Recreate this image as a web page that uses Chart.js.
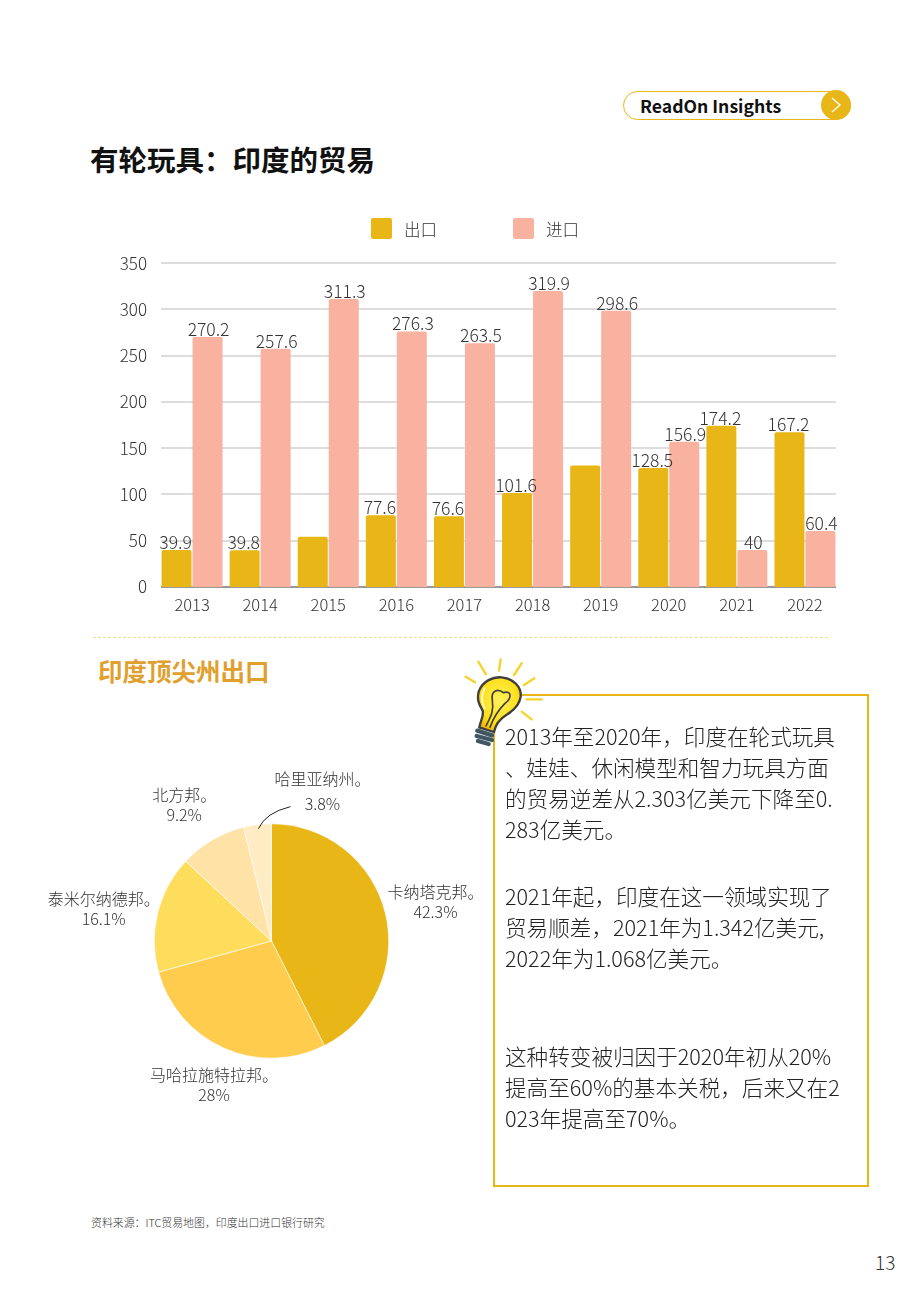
<!DOCTYPE html>
<html lang="zh-CN">
<head>
<meta charset="utf-8">
<title>有轮玩具：印度的贸易</title>
<script src="https://cdn.jsdelivr.net/npm/chart.js@4/dist/chart.umd.min.js"></script>
<style>
html, body { margin: 0; padding: 0; background: #fff; }
#page { position: relative; width: 920px; height: 1302px; overflow: hidden; font-family: "Noto Sans CJK SC", sans-serif; font-weight: 300; color: #222; }
#page > div, #page > canvas, #page > svg { position: absolute; }
.line { white-space: nowrap; }
#pill { left: 623px; top: 91px; width: 226px; height: 26.5px; border: 1.3px solid #E8B717; border-radius: 15px; }
#pill-dot { left: 821px; top: 90px; width: 30px; height: 30px; border-radius: 50%; background: #E8B717; }
#pill-text { left: 640px; top: 92px; font-size: 17.6px; line-height: 28px; font-weight: 700; color: #111; }
#title { left: 90px; top: 139px; font-size: 28.5px; line-height: 40px; font-weight: 700; color: #111; }
#subtitle { left: 98px; top: 654px; font-size: 24.5px; line-height: 33px; font-weight: 700; color: #DFA02E; }
#rule { left: 93px; top: 637px; width: 735px; border-top: 1px dashed #F5DC8E; }
#note-box { left: 493px; top: 694px; width: 372px; height: 489px; border: 2.5px solid #E8B717; }
#source { left: 91px; top: 1214px; font-size: 10.9px; line-height: 16px; color: #333; }
#page-no { left: 875px; top: 1248px; font-size: 19px; line-height: 28px; color: #333; }
.legend-box { width: 21px; height: 21px; border-radius: 2px; top: 218px; }
.legend-text { top: 218px; font-size: 16.5px; line-height: 23px; color: #333; }
</style>
</head>
<body>
<div id="page">
  <div id="pill"></div>
  <div id="pill-dot"></div>
  <svg style="left:0;top:0" width="920" height="130"><path d="M832 98 L840 105 L832 112" fill="none" stroke="#fff" stroke-width="1.4"/></svg>
  <div id="pill-text" class="line">ReadOn Insights</div>
  <div id="title" class="line">有轮玩具：印度的贸易</div>
  <canvas id="barChart" style="left:100px;top:250px" width="760" height="370"></canvas>
  <div id="rule"></div>
  <div id="subtitle" class="line">印度顶尖州出口</div>
  <canvas id="pieChart" style="left:30px;top:750px" width="470" height="380"></canvas>
  <div id="note-box"></div>
  <svg style="left:0;top:0" width="920" height="760">
    <defs>
      <radialGradient id="glass" cx="0.5" cy="0.42" r="0.6">
        <stop offset="0" stop-color="#FFF15C"/>
        <stop offset="0.7" stop-color="#FFE01B"/>
        <stop offset="1" stop-color="#F2B705"/>
      </radialGradient>
    </defs>
    <rect x="476" y="670" width="44" height="60" fill="#fff"/>
    <g transform="translate(450,640) scale(0.3333)" fill="none" stroke-linecap="round">
      <g stroke="#F5D327" stroke-width="7">
        <path d="M85 65 L108 103"/><path d="M152 58 L147 92"/><path d="M215 70 L192 105"/>
        <path d="M253 115 L222 135"/><path d="M275 178 L230 178"/><path d="M245 238 L215 215"/><path d="M47 110 L75 127"/>
      </g>
      <path d="M88 262 C92 240 102 228 98 212 C88 195 80 180 86 155 C98 122 130 110 155 112 C190 116 215 140 212 170 C208 198 190 212 170 224 C150 236 137 250 132 276 Z" fill="url(#glass)" stroke="#3F3F3D" stroke-width="7"/>
      <path d="M104 205 C94 185 92 165 104 145" stroke="#FFF9C8" stroke-width="6"/>
      <path d="M108 258 C122 230 132 215 127 180 C122 150 145 145 160 158 C186 150 186 175 165 190 C150 205 132 228 120 262" stroke="#3F3F3D" stroke-width="5"/>
      <g stroke="#3F5663" stroke-width="13">
        <path d="M82 272 L126 286"/><path d="M80 288 L126 300"/><path d="M84 303 L116 312"/>
      </g>
    </g>
  </svg>
  <div id="source" class="line">资料来源：ITC贸易地图，印度出口进口银行研究</div>
  <div id="page-no" class="line">13</div>
</div>
<script>
var years = ["2013", "2014", "2015", "2016", "2017", "2018", "2019", "2020", "2021", "2022"];
var exports_val = [39.9, 39.8, 54.2, 77.6, 76.6, 101.6, 131.4, 128.5, 174.2, 167.2];
var imports_val = [270.2, 257.6, 311.3, 276.3, 263.5, 319.9, 298.6, 156.9, 40, 60.4];
var y_ticks = [0, 50, 100, 150, 200, 250, 300, 350];
// export bars that carry no printed value
var unlabeled_exports = ["2015", "2019"];

var states = ["卡纳塔克邦。", "马哈拉施特拉邦。", "泰米尔纳德邦。", "北方邦。", "哈里亚纳州。"];
var state_share = [42.3, 28, 16.1, 9.2, 3.8];

var note_lines = [
    ["2013年至2020年，印度在轮式玩具", 736],
    ["、娃娃、休闲模型和智力玩具方面", 767],
    ["的贸易逆差从2.303亿美元下降至0.", 798],
    ["283亿美元。", 829],
    ["2021年起，印度在这一领域实现了", 896],
    ["贸易顺差，2021年为1.342亿美元,", 927],
    ["2022年为1.068亿美元。", 958],
    ["这种转变被归因于2020年初从20%", 1056],
    ["提高至60%的基本关税，后来又在2", 1087],
    ["023年提高至70%。", 1118]
];

var GOLD = "#E8B717";
var SALMON = "#F9B1A0";
var FONT = '"Noto Sans CJK SC", sans-serif';
var page = document.getElementById("page");

note_lines.forEach(function (item) {
    let el = document.createElement("div");
    el.className = "line";
    el.style.left = "505px";
    el.style.top = (item[1] - 16) + "px";
    el.style.fontSize = "21.6px";
    el.style.lineHeight = "32px";
    el.textContent = item[0];
    page.appendChild(el);
});

// legend sits outside the canvas so the gaps can be set freely
[["出口", GOLD, 371], ["进口", SALMON, 513]].forEach(function (item) {
    let box = document.createElement("div");
    box.className = "legend-box";
    box.style.left = item[2] + "px";
    box.style.background = item[1];
    page.appendChild(box);
    let txt = document.createElement("div");
    txt.className = "legend-text line";
    txt.style.left = (item[2] + 33) + "px";
    txt.textContent = item[0];
    page.appendChild(txt);
});

// grid stops short of the outer bars' group padding, so it is drawn here
var gridPlugin = {
    id: "insetGrid",
    beforeDatasetsDraw: function (chart) {
        let ctx = chart.ctx, area = chart.chartArea, y = chart.scales.y;
        ctx.save();
        y.ticks.forEach(function (t) {
            let py = Math.round(y.getPixelForValue(t.value));
            ctx.beginPath();
            ctx.strokeStyle = t.value === 0 ? "#999999" : "#D2D2D2";
            ctx.lineWidth = t.value === 0 ? 2 : 1.4;
            ctx.moveTo(area.left + 3, py);
            ctx.lineTo(area.right - 3, py);
            ctx.stroke();
        });
        ctx.restore();
    }
};

var barLabelPlugin = {
    id: "barLabels",
    afterDatasetsDraw: function (chart) {
        let ctx = chart.ctx;
        ctx.save();
        ctx.font = "300 17.5px " + FONT;
        ctx.fillStyle = "#333";
        ctx.textAlign = "center";
        ctx.textBaseline = "alphabetic";
        chart.data.datasets.forEach(function (ds, d) {
            chart.getDatasetMeta(d).data.forEach(function (bar, i) {
                if (d === 0 && unlabeled_exports.includes(years[i])) return;
                ctx.fillText(String(ds.data[i]), bar.x + (d === 0 ? -1 : 1), bar.y - 1);
            });
        });
        ctx.restore();
    }
};

new Chart(document.getElementById("barChart"), {
    type: "bar",
    data: {
        labels: years,
        datasets: [
            { label: "出口", data: exports_val, backgroundColor: GOLD, borderRadius: { topLeft: 2, topRight: 2 }, categoryPercentage: 0.91, barPercentage: 0.968 },
            { label: "进口", data: imports_val, backgroundColor: SALMON, borderRadius: { topLeft: 2, topRight: 2 }, categoryPercentage: 0.91, barPercentage: 0.968 }
        ]
    },
    options: {
        responsive: false,
        animation: false,
        layout: { padding: { top: 1, right: 21, left: 0, bottom: 0 } },
        plugins: { legend: { display: false }, title: { display: false }, tooltip: { enabled: false } },
        scales: {
            x: {
                grid: { display: false },
                border: { display: false },
                afterFit: function (s) { s.height = 33; },
                ticks: { color: "#333", padding: 0, maxRotation: 0, font: { family: FONT, size: 16.5, weight: 300 } }
            },
            y: {
                min: 0,
                max: 350,
                grid: { display: false },
                border: { display: false },
                afterFit: function (s) { s.width = 58; },
                afterBuildTicks: function (s) { s.ticks = y_ticks.map(function (v) { return { value: v }; }); },
                ticks: { color: "#333", padding: 3, font: { family: FONT, size: 17, weight: 300 } }
            }
        }
    },
    plugins: [gridPlugin, barLabelPlugin]
});

// where each slice's caption sits, relative to the middle of its outer edge
var caption_shift = [[50, -12], [-10, 37], [-54, -4], [-28, -35], [65, -33]];
var caption_gap = [10, 10, 10, 10, 12.5];

var pieLabelPlugin = {
    id: "pieLabels",
    afterDatasetsDraw: function (chart) {
        let ctx = chart.ctx;
        ctx.save();
        ctx.font = "300 16px " + FONT;
        ctx.fillStyle = "#333";
        ctx.textAlign = "center";
        ctx.textBaseline = "middle";
        chart.getDatasetMeta(0).data.forEach(function (arc, i) {
            let mid = (arc.startAngle + arc.endAngle) / 2;
            let ex = arc.x + Math.cos(mid) * arc.outerRadius;
            let ey = arc.y + Math.sin(mid) * arc.outerRadius;
            let cx = ex + caption_shift[i][0], cy = ey + caption_shift[i][1];
            ctx.fillText(states[i], cx, cy - caption_gap[i]);
            ctx.fillText(state_share[i] + "%", cx, cy + caption_gap[i]);
            if (i === states.length - 1) {
                // leader line from the smallest slice up to its caption
                ctx.beginPath();
                ctx.strokeStyle = "#222";
                ctx.lineWidth = 1;
                ctx.moveTo(ex + 1, ey + 4);
                ctx.quadraticCurveTo(ex + 8, ey - 12, ex + 33, ey - 18);
                ctx.stroke();
            }
        });
        ctx.restore();
    }
};

new Chart(document.getElementById("pieChart"), {
    type: "pie",
    data: {
        labels: states,
        datasets: [{
            data: state_share,
            backgroundColor: [GOLD, "#FFCC4D", "#FFDD5C", "#FFE3A6", "#FFEBC4"],
            borderColor: "#FFFFFF",
            borderWidth: 0.6
        }]
    },
    options: {
        responsive: false,
        animation: false,
        layout: { padding: { left: 124, right: 111, top: 73.5, bottom: 71.5 } },
        plugins: { legend: { display: false }, title: { display: false }, tooltip: { enabled: false } }
    },
    plugins: [pieLabelPlugin]
});
</script>
</body>
</html>
